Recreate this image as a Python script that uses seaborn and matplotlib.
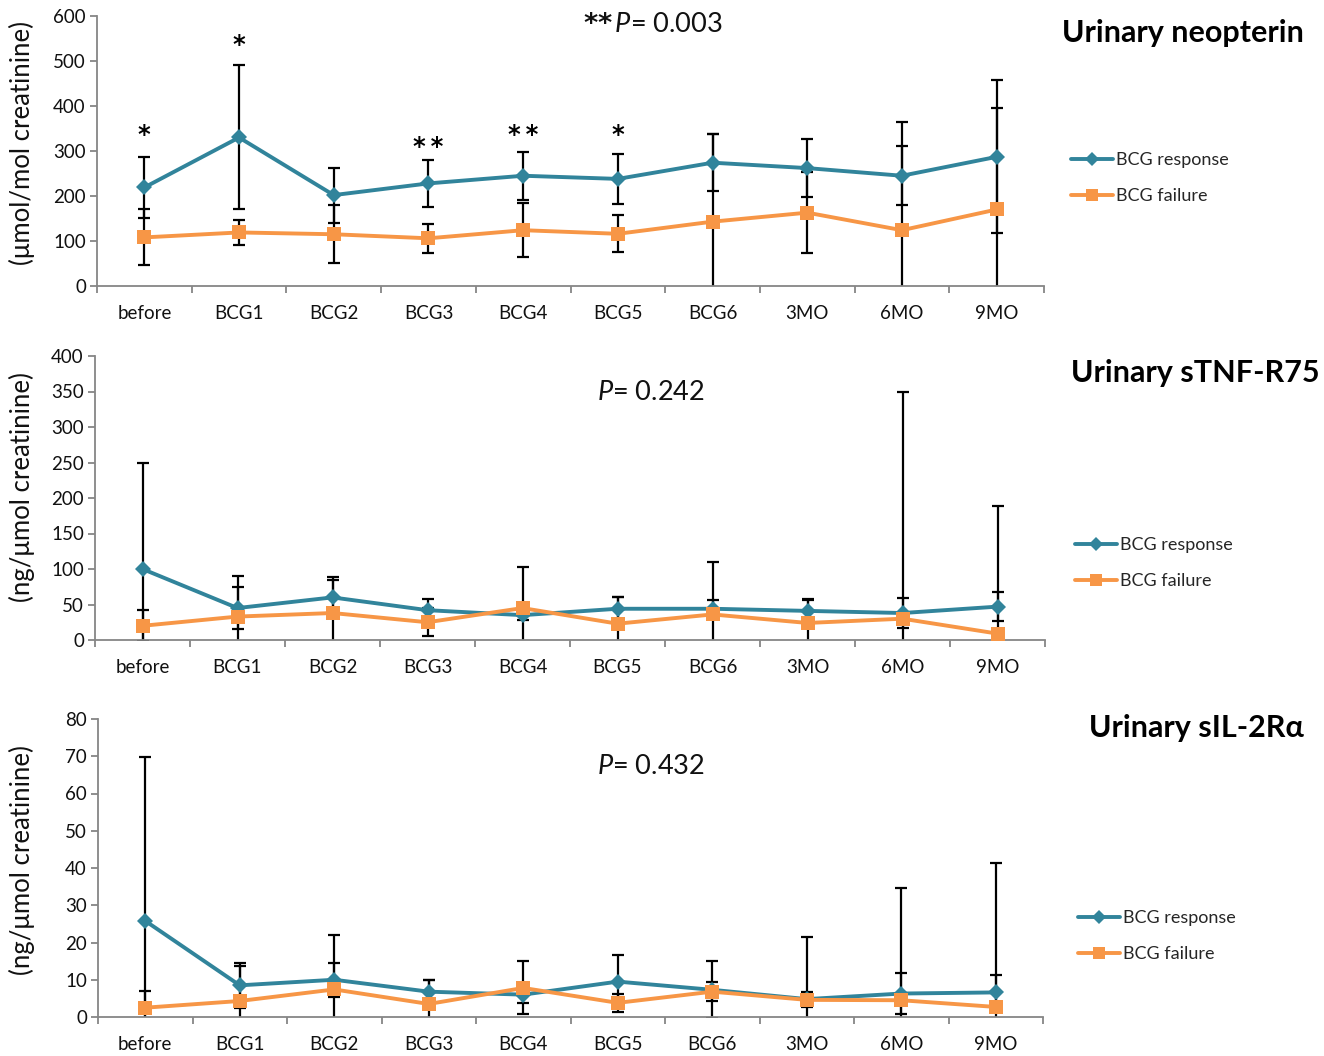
import numpy as np
import pandas as pd
import seaborn as sns
import matplotlib.pyplot as plt
from matplotlib.lines import Line2D

# Time points of urine sampling
timepoints = ["before", "BCG1", "BCG2", "BCG3", "BCG4", "BCG5", "BCG6", "3MO", "6MO", "9MO"]

# Urinary neopterin (µmol/mol creatinine): mean and SD per group
neo_resp = [219, 330, 202, 228, 245, 238, 274, 262, 245, 287]
neo_resp_sd = [67, 160, 61, 53, 53, 56, 64, 64, 65, 170]
neo_fail = [108, 119, 115, 106, 124, 116, 143, 163, 124, 170]
neo_fail_sd = [62, 27, 64, 32, 60, 41, 195, 90, 241, 226]
neo_stars = ["*", "*", "", "*\u2009*", "*\u2009*", "*", "", "", "", ""]
neo_star_y = [336, 536, 0, 309, 336, 336, 0, 0, 0, 0]

# Urinary sTNF-R75 (ng/µmol creatinine)
tnf_resp = [100, 45, 60, 42, 35, 44, 44, 41, 38, 47]
tnf_resp_sd = [150, 30, 29, 16, 7, 17, 12, 17, 21, 20]
tnf_fail = [20, 33, 38, 25, 45, 23, 36, 24, 30, 9]
tnf_fail_sd = [22, 57, 47, 20, 58, 38, 74, 32, 320, 180]

# Urinary sIL-2Rα (ng/µmol creatinine)
il2_resp = [25.8, 8.5, 10.0, 6.8, 6.0, 9.5, 7.3, 4.8, 6.3, 6.6]
il2_resp_sd = [44, 6, 4.6, 3, 2.2, 7.2, 7.7, 16.7, 5.6, 4.8]
il2_fail = [2.5, 4.3, 7.4, 3.5, 7.8, 3.8, 6.8, 4.6, 4.5, 2.7]
il2_fail_sd = [4.5, 9.5, 14.6, 6.3, 7.1, 2.5, 2.5, 2.0, 30, 38.7]

groups = ["BCG response", "BCG failure"]
colors = {"BCG response": "#31849B", "BCG failure": "#F79646"}
markers = {"BCG response": "D", "BCG failure": "s"}
msizes = {"BCG response": 8, "BCG failure": 10}

sns.set_theme(style="white")
plt.rcParams["font.family"] = ["Lato", "DejaVu Sans"]
plt.rcParams["mathtext.fontset"] = "custom"
plt.rcParams["mathtext.rm"] = "Lato"
plt.rcParams["mathtext.it"] = "Lato:italic"
plt.rcParams["mathtext.bf"] = "DejaVu Sans:bold"

fig = plt.figure(figsize=(13.24, 10.56), dpi=100)
W, H = 1324, 1056

panels = [
    dict(resp=neo_resp, rsd=neo_resp_sd, fail=neo_fail, fsd=neo_fail_sd,
         ymax=600, step=100, box=(97, 16, 1044, 286),
         ylabel="(\u03bcmol/mol creatinine)", ylab_y=143,
         ptext=r"$\mathbf{*}\mathbf{*}\,P$= 0.003", p_xy=(653, 25),
         title="Urinary neopterin", t_xy=(1183, 33), leg_xy=(1071, 178),
         stars=neo_stars, star_y=neo_star_y),
    dict(resp=tnf_resp, rsd=tnf_resp_sd, fail=tnf_fail, fsd=tnf_fail_sd,
         ymax=400, step=50, box=(95, 356, 1045, 640),
         ylabel="(ng/\u03bcmol creatinine)", ylab_y=487,
         ptext="$P$= 0.242", p_xy=(651, 393),
         title="Urinary sTNF-R75", t_xy=(1195, 373), leg_xy=(1075, 563),
         stars=None, star_y=None),
    dict(resp=il2_resp, rsd=il2_resp_sd, fail=il2_fail, fsd=il2_fail_sd,
         ymax=80, step=10, box=(98, 719, 1043, 1017),
         ylabel="(ng/\u03bcmol creatinine)", ylab_y=860,
         ptext="$P$= 0.432", p_xy=(651, 766),
         title="Urinary sIL-2R\u03b1", t_xy=(1196, 728), leg_xy=(1078, 936),
         stars=None, star_y=None),
]

pos = np.arange(len(timepoints))
axis_grey = "#868686"

for p in panels:
    x0, y0, x1, y1 = p["box"]
    ax = fig.add_axes([x0 / W, 1 - y1 / H, (x1 - x0) / W, (y1 - y0) / H])

    df = pd.DataFrame({
        "pos": np.tile(pos, 2),
        "value": list(p["resp"]) + list(p["fail"]),
        "group": [groups[0]] * len(pos) + [groups[1]] * len(pos),
    })

    for vals, sds in ((p["resp"], p["rsd"]), (p["fail"], p["fsd"])):
        ax.errorbar(pos, vals, yerr=sds, fmt="none", ecolor="black",
                    elinewidth=1.6, capsize=4.5, capthick=1.6, zorder=2)

    for g in groups:
        sub = df[df["group"] == g]
        sns.lineplot(data=sub, x="pos", y="value", color=colors[g],
                     marker=markers[g], markersize=msizes[g],
                     markeredgewidth=0, linewidth=2.8, ax=ax, zorder=3)

    ax.set_xlim(-0.5, len(pos) - 0.5)
    ax.set_ylim(0, p["ymax"])
    ax.set_yticks(np.arange(0, p["ymax"] + 1, p["step"]))
    ax.set_xticks(pos)
    ax.set_xticklabels(timepoints)
    ax.set_xticks(np.arange(-0.5, len(pos)), minor=True)
    ax.set_xlabel("")
    ax.set_ylabel("")

    for s in ("top", "right"):
        ax.spines[s].set_visible(False)
    for s in ("left", "bottom"):
        ax.spines[s].set_color(axis_grey)
        ax.spines[s].set_linewidth(1.3)

    ax.tick_params(axis="x", which="major", length=0, pad=14, labelsize=13.5, labelcolor="#111111")
    ax.tick_params(axis="x", which="minor", length=5, width=1.3, color=axis_grey, direction="out", bottom=True)
    ax.tick_params(axis="y", which="major", length=5, width=1.3, color=axis_grey, direction="out",
                   left=True, pad=3, labelsize=13.5, labelcolor="#111111")

    if p["stars"] is not None:
        for xi, (st, sy) in enumerate(zip(p["stars"], p["star_y"])):
            if st:
                ax.text(xi, sy, st, ha="center", va="center", fontsize=17.5,
                        family="DejaVu Sans", fontweight="bold", color="black")

    fig.text(22 / W, 1 - p["ylab_y"] / H, p["ylabel"], rotation=90, ha="center", va="center",
             fontsize=18.5, color="#111111")
    fig.text(p["p_xy"][0] / W, 1 - p["p_xy"][1] / H, p["ptext"], ha="center", va="center",
             fontsize=19.5, color="#111111")
    fig.text(p["t_xy"][0] / W, 1 - p["t_xy"][1] / H, p["title"], ha="center", va="center",
             fontsize=22, fontweight="bold", color="black")

    handles = [Line2D([], [], color=colors[g], marker=markers[g], markersize=msizes[g] * 0.9,
                      markeredgewidth=0, linewidth=2.8) for g in groups]
    fig.legend(handles, groups, loc="center left",
               bbox_to_anchor=(p["leg_xy"][0] / W, 1 - p["leg_xy"][1] / H),
               frameon=False, fontsize=13, handlelength=2.3, handletextpad=0.2,
               labelspacing=1.1, borderpad=0, borderaxespad=0)

fig.savefig("out.png", dpi=100)
